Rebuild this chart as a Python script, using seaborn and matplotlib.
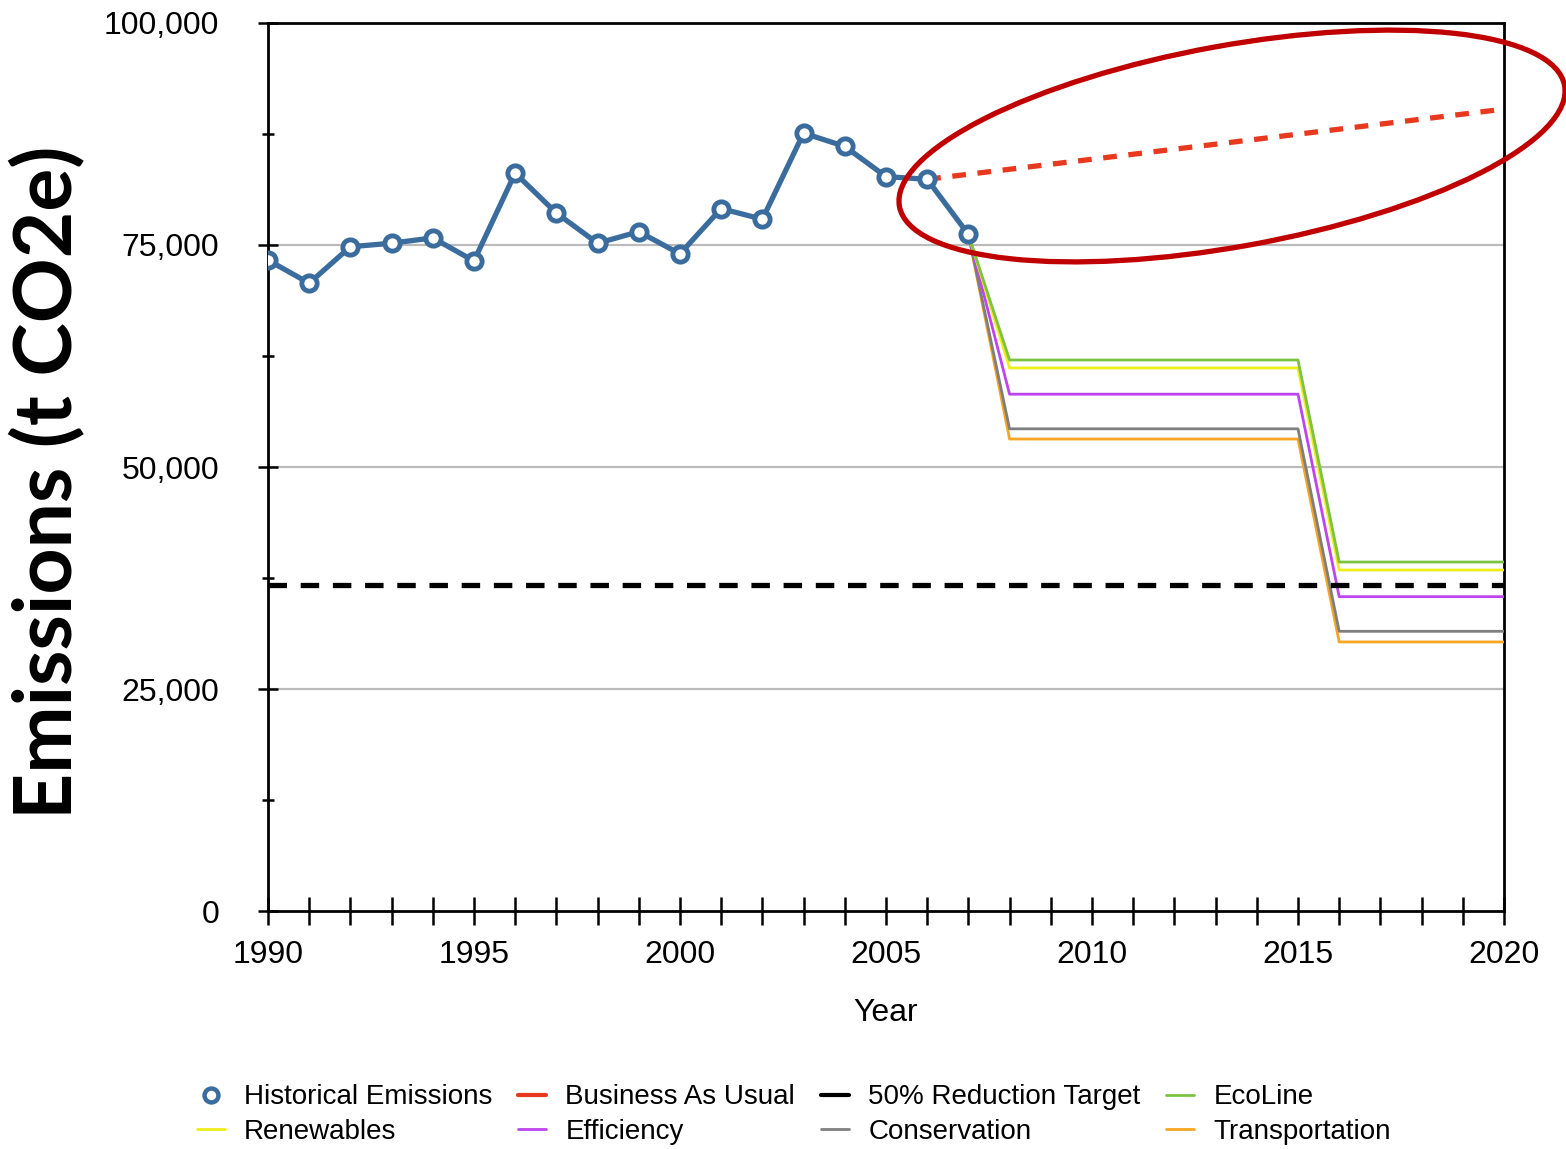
import numpy as np
import pandas as pd
import seaborn as sns
import matplotlib.pyplot as plt
from matplotlib.lines import Line2D
from matplotlib.patches import Ellipse
from matplotlib.ticker import FuncFormatter, MultipleLocator

# values
hist_years = list(range(1990, 2008))
hist_vals = [73300, 70700, 74800, 75200, 75800, 73200, 83100, 78600, 75200,
             76500, 74000, 79100, 77900, 87600, 86100, 82700, 82400, 76200]

bau_years = [2006, 2020]
bau_vals = [82400, 90300]

target_years = [1990, 2020]
target_vals = [36700, 36700]

scen_years = [2007, 2008, 2015, 2016, 2020]
ecoline = [76200, 62050, 62050, 39300, 39300]
renewables = [76200, 61150, 61150, 38400, 38400]
efficiency = [76200, 58200, 58200, 35400, 35400]
conservation = [76200, 54300, 54300, 31500, 31500]
transportation = [76200, 53150, 53150, 30300, 30300]

scen_names = ["EcoLine", "Renewables", "Efficiency", "Conservation", "Transportation"]
scen_colors = ["#7CC243", "#EEEE1A", "#BE45EE", "#7F7F7F", "#F6A623"]

sns.set_style("white")
plt.rcParams['font.family'] = ['Liberation Sans', 'DejaVu Sans']
plt.rcParams['text.color'] = 'black'
plt.rcParams['axes.labelcolor'] = 'black'
plt.rcParams['xtick.color'] = 'black'
plt.rcParams['ytick.color'] = 'black'

fig = plt.figure(figsize=(15.66, 11.49), dpi=100)
ax = fig.add_axes([0.1711, 0.2071, 0.9604 - 0.1711, 0.98 - 0.2071])

# gridlines
for g in [25000, 50000, 75000]:
    ax.axhline(g, color="#BBBBBB", lw=1.6, zorder=0)

# scenario lines
scen = pd.DataFrame({"Year": scen_years * 5,
                     "Emissions": ecoline + renewables + efficiency + conservation + transportation,
                     "Scenario": np.repeat(scen_names, len(scen_years))})
# draw in reverse so green ends up on top
for name, col in reversed(list(zip(scen_names, scen_colors))):
    sub = scen[scen["Scenario"] == name]
    sns.lineplot(data=sub, x="Year", y="Emissions", color=col, lw=2.0, ax=ax, zorder=3)

# target
sns.lineplot(x=target_years, y=target_vals, color="black", lw=3.8, ax=ax,
             linestyle=(0, (3.5, 2.6)), zorder=4)

# business as usual
sns.lineplot(x=bau_years, y=bau_vals, color="#E8381E", lw=3.8, ax=ax,
             linestyle=(0, (2.6, 2.2)), zorder=4)

# historical
sns.lineplot(x=hist_years, y=hist_vals, color="#3B6C9E", lw=3.8, ax=ax,
             marker="o", markersize=11, markerfacecolor="white",
             markeredgecolor="#3B6C9E", markeredgewidth=3.5, zorder=5)

ax.set_xlim(1990, 2020)
ax.set_ylim(0, 100000)
ax.xaxis.set_major_locator(MultipleLocator(5))
ax.xaxis.set_minor_locator(MultipleLocator(1))
ax.yaxis.set_major_locator(MultipleLocator(25000))
ax.yaxis.set_minor_locator(MultipleLocator(12500))
ax.yaxis.set_major_formatter(FuncFormatter(lambda v, p: f"{int(v):,}"))
ax.tick_params(axis="both", which="both", direction="inout", color="black",
               width=1.8, labelsize=23, bottom=True, left=True)
ax.tick_params(axis="x", which="both", length=20, pad=11)
ax.tick_params(axis="y", which="major", length=14, pad=28)
ax.tick_params(axis="y", which="minor", length=8)
for s in ax.spines.values():
    s.set_color("black")
    s.set_linewidth(2.0)

ax.set_xlabel("Year", fontsize=23, labelpad=20)
ax.set_ylabel("")

fig.text(0.031, 0.58, "Emissions (t CO2e)", rotation=90, ha="center", va="center",
         fontsize=58, fontweight="bold", family=["Lato", "DejaVu Sans"])

# red highlight ellipse
ell = Ellipse((12.32, 10.03), 6.76, 2.01, angle=10.3, transform=fig.dpi_scale_trans,
              fill=False, edgecolor="#C00000", lw=3.8, clip_on=False, zorder=10)
fig.add_artist(ell)

# legend, filled row-wise
handles = {
    "Historical Emissions": Line2D([], [], color="#3B6C9E", marker="o", lw=0, markersize=10,
                                   markerfacecolor="white", markeredgewidth=3.2),
    "Business As Usual": Line2D([], [], color="#E8381E", lw=3),
    "50% Reduction Target": Line2D([], [], color="black", lw=3),
    "EcoLine": Line2D([], [], color=scen_colors[0], lw=2),
    "Renewables": Line2D([], [], color=scen_colors[1], lw=2),
    "Efficiency": Line2D([], [], color=scen_colors[2], lw=2),
    "Conservation": Line2D([], [], color=scen_colors[3], lw=2),
    "Transportation": Line2D([], [], color=scen_colors[4], lw=2),
}
order = ["Historical Emissions", "Renewables", "Business As Usual", "Efficiency",
         "50% Reduction Target", "Conservation", "EcoLine", "Transportation"]
fig.legend([handles[k] for k in order], order, loc="center", ncol=4,
           bbox_to_anchor=(0.507, 0.03), frameon=False, fontsize=20,
           handlelength=1.0, handletextpad=0.7, columnspacing=0.93, labelspacing=0.3)

fig.savefig("out.png", dpi=100)
